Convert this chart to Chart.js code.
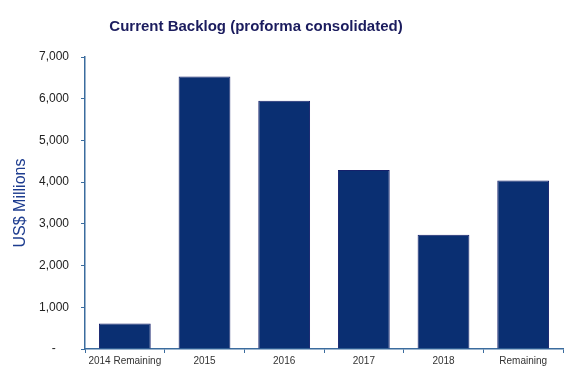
<!DOCTYPE html>
<html>
<head>
<meta charset="utf-8">
<script src="https://cdn.jsdelivr.net/npm/chart.js@4/dist/chart.umd.min.js"></script>
<style>
  html, body { margin: 0; padding: 0; background: #fff; }
  #wrap { width: 580px; height: 378px; }
</style>
</head>
<body>
<div id="wrap"><canvas id="backlog"></canvas></div>
<script>
const categories = ['2014 Remaining', '2015', '2016', '2017', '2018', 'Remaining'];
const backlog = [610, 6530, 5950, 4290, 2740, 4040];
const yTicks = [0, 1000, 2000, 3000, 4000, 5000, 6000, 7000];

const axisColor = '#3b6c9e';

// title sits left of centre in the original, so draw it by hand
const titlePlugin = {
  id: 'backlogTitle',
  afterDraw(chart) {
    const c = chart.ctx;
    c.save();
    c.font = 'bold 15px "Liberation Sans", Arial, sans-serif';
    c.fillStyle = '#1b1c5e';
    c.textAlign = 'center';
    c.textBaseline = 'middle';
    c.fillText('Current Backlog (proforma consolidated)', 256, 27);
    c.restore();
  }
};

const ctx = document.getElementById('backlog').getContext('2d');
new Chart(ctx, {
  type: 'bar',
  data: {
    labels: categories,
    datasets: [{
      label: 'Backlog',
      data: backlog,
      backgroundColor: '#0a2f72',
      borderColor: '#15206b',
      borderWidth: 1,
      barPercentage: 0.65,
      categoryPercentage: 1
    }]
  },
  options: {
    responsive: true,
    maintainAspectRatio: false,
    animation: false,
    layout: { padding: { top: 57, right: 17, bottom: 0, left: 0 } },
    plugins: {
      legend: { display: false },
      tooltip: { enabled: false }
    },
    scales: {
      x: {
        grid: { drawOnChartArea: false, drawTicks: true, tickLength: 4, color: axisColor },
        border: { color: axisColor, width: 1.5 },
        ticks: {
          color: '#333',
          font: { family: '"Liberation Sans", Arial, sans-serif', size: 10 },
          padding: 2,
          maxRotation: 0,
          autoSkip: false
        },
        afterFit(scale) { scale.height = 29; }
      },
      y: {
        min: 0,
        max: 7000,
        afterBuildTicks(scale) { scale.ticks = yTicks.map(v => ({ value: v })); },
        grid: { drawOnChartArea: false, drawTicks: true, tickLength: 4, color: axisColor },
        border: { color: axisColor, width: 1.5 },
        ticks: {
          color: '#222',
          font: { family: '"Liberation Sans", Arial, sans-serif', size: 12 },
          padding: 12,
          callback: v => v === 0 ? '-    ' : v.toLocaleString('en-US')
        },
        title: {
          display: true,
          text: 'US$ Millions',
          color: '#1d3c8f',
          font: { family: '"Liberation Sans", Arial, sans-serif', size: 16 },
          padding: { top: 11, bottom: 0 }
        },
        afterFit(scale) { scale.width = 85; }
      }
    }
  },
  plugins: [titlePlugin]
});
</script>
</body>
</html>
